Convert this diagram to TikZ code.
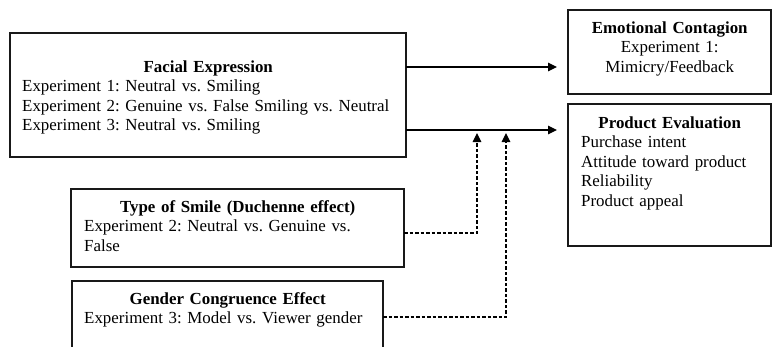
\documentclass[tikz,border=0pt]{standalone}
\usepackage{fontspec}
\setmainfont{Liberation Serif}
\usetikzlibrary{arrows.meta,positioning}
\newcommand{\txtfont}{\fontsize{16.9}{19.5}\selectfont\frenchspacing\hyphenpenalty10000\relax}
\tikzset{
	box/.style={draw=black!90,line width=1.6pt,inner sep=0pt,outer sep=0pt,anchor=north west},
	txt/.style={inner sep=0pt,anchor=base west,align=left,font=\txtfont},
	arr/.style={line width=1.2pt,-{Triangle[length=9pt,width=8.5pt]}},
	dsh/.style={arr,dash pattern=on 3.5pt off 2pt}
}
\newcommand{\boxtitle}[1]{{\centering\bfseries #1\par}}
\begin{document}
\begin{tikzpicture}[x=1pt,y=-1pt]
		\useasboundingbox (0,0) rectangle (772,346);
		\clip (0,0) rectangle (772,346);
		% boxes
		\node[box,minimum width=396pt,minimum height=124pt] (fe) at (10,33) {};
		\node[box,minimum width=203pt,minimum height=84pt] (ec) at (568,10) {};
		\node[box,minimum width=203pt,minimum height=142pt] (pe) at (568,104) {};
		\node[box,minimum width=333pt,minimum height=78pt] (ts) at (71,189) {};
		\node[box,minimum width=311pt,minimum height=72pt] (gc) at (72,281) {};
		% texts
		\node[txt,text width=372pt] (fe-t) at ([shift={(12,39)}]fe.north west) {\boxtitle{Facial Expression}Experiment 1: Neutral vs. Smiling\\Experiment 2: Genuine vs. False Smiling vs. Neutral\\Experiment 3: Neutral vs. Smiling};
		\node[txt,text width=179pt,align=center] (ec-t) at ([shift={(12,23)}]ec.north west) {\textbf{Emotional Contagion}\\Experiment 1:\\Mimicry/Feedback};
		\node[txt,text width=177pt] (pe-t) at ([shift={(13,24)}]pe.north west) {\boxtitle{Product Evaluation}Purchase intent\\Attitude toward product\\Reliability\\Product appeal};
		\node[txt,text width=307pt] (ts-t) at ([shift={(13,23)}]ts.north west) {\boxtitle{Type of Smile (Duchenne effect)}Experiment 2: Neutral vs. Genuine vs.\\False};
		\node[txt,text width=287pt] (gc-t) at ([shift={(12,23)}]gc.north west) {\boxtitle{Gender Congruence Effect}Experiment 3: Model vs. Viewer gender};
		% connectors
		\coordinate (ec-in) at (557,67);
		\coordinate (pe-in) at (557,130);
		\coordinate (m1) at (477,133);
		\coordinate (m2) at (506,133);
		\draw[arr] (fe.east |- ec-in) -- (ec-in);
		\draw[arr] (fe.east |- pe-in) -- (pe-in);
		\draw[dsh] ([yshift=-5pt]ts.east) -| (m1);
		\draw[dsh] (gc.east) -| (m2);
\end{tikzpicture}
\end{document}
